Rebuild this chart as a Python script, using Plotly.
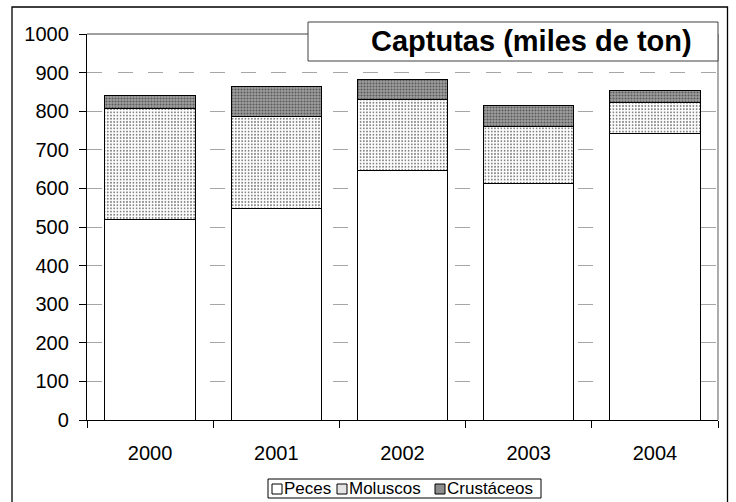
import plotly.graph_objects as go

# Catches by year, thousand tonnes (stacked segments)
years = ["2000", "2001", "2002", "2003", "2004"]
peces = [519, 548, 647, 613, 743]
moluscos = [287, 237, 183, 147, 80]
crustaceos = [34, 80, 53, 55, 30]

series_names = ["Peces", "Moluscos", "Crustáceos"]
y_ticks = list(range(0, 1001, 100))

W, H = 736, 502
L, R, T, B = 87, 18, 34, 82
PW, PH = W - L - R, H - T - B

FONT = "Liberation Sans, Arial, sans-serif"


def px(x):
    return (x - L) / PW


def py(y):
    return (H - B - y) / PH


fig = go.Figure()

fig.add_trace(go.Bar(
    x=years, y=peces, name=series_names[0],
    marker=dict(color="white", line=dict(color="black", width=1)),
))
fig.add_trace(go.Bar(
    x=years, y=moluscos, name=series_names[1],
    marker=dict(
        color="white", line=dict(color="black", width=1),
        pattern=dict(shape=".", fgcolor="#7a7a7a", bgcolor="white",
                     size=3.2, solidity=0.25, fillmode="replace"),
    ),
))
fig.add_trace(go.Bar(
    x=years, y=crustaceos, name=series_names[2],
    marker=dict(
        color="#8c8c8c", line=dict(color="black", width=1),
        pattern=dict(shape=".", fgcolor="#5a5a5a", bgcolor="#a0a0a0",
                     size=3, solidity=0.4, fillmode="replace"),
    ),
))

shapes = []
# outer chart frame
shapes.append(dict(type="rect", xref="paper", yref="paper",
                   x0=px(12), x1=px(727.5), y0=py(520), y1=py(7),
                   line=dict(color="black", width=1.3), fillcolor="rgba(0,0,0,0)",
                   layer="below"))
# plot area top and right edges
shapes.append(dict(type="line", xref="paper", yref="paper",
                   x0=0, x1=1, y0=1, y1=1,
                   line=dict(color="#808080", width=1.3), layer="above"))
shapes.append(dict(type="line", xref="paper", yref="paper",
                   x0=1, x1=1, y0=0, y1=1,
                   line=dict(color="#808080", width=1.3), layer="above"))
# title box
shapes.append(dict(type="rect", xref="paper", yref="paper",
                   x0=px(308), x1=px(718), y0=py(61), y1=py(22),
                   line=dict(color="#404040", width=1), fillcolor="white",
                   layer="above"))

# legend box and swatches
shapes.append(dict(type="rect", xref="paper", yref="paper",
                   x0=px(268), x1=px(541), y0=py(498), y1=py(479),
                   line=dict(color="black", width=1), fillcolor="white",
                   layer="above"))
swatch_x = [272, 337, 435]
swatch_fill = ["white", "#e4e4e4", "#8c8c8c"]
text_x = [284, 349, 447]
annotations = []
for sx, fill, tx, name in zip(swatch_x, swatch_fill, text_x, series_names):
    shapes.append(dict(type="rect", xref="paper", yref="paper",
                       x0=px(sx), x1=px(sx + 10), y0=py(494), y1=py(484),
                       line=dict(color="black", width=1), fillcolor=fill,
                       layer="above"))
    annotations.append(dict(xref="paper", yref="paper", x=px(tx), y=py(488.5),
                            text=name, showarrow=False, xanchor="left",
                            yanchor="middle", xshift=-2,
                            font=dict(family=FONT, size=17, color="black")))

annotations.append(dict(xref="paper", yref="paper", x=px(531), y=py(41.5),
                        text="<b>Captutas (miles de ton)</b>", showarrow=False,
                        xanchor="center", yanchor="middle",
                        font=dict(family=FONT, size=29, color="black")))

fig.update_layout(
    width=W, height=H,
    margin=dict(l=L, r=R, t=T, b=B, pad=0),
    paper_bgcolor="white", plot_bgcolor="white",
    barmode="stack", bargap=0.285,
    showlegend=False,
    font=dict(family=FONT, size=19, color="black"),
    shapes=shapes, annotations=annotations,
)
fig.update_xaxes(
    type="category", tickson="boundaries", ticks="outside", ticklen=7,
    tickcolor="black", tickwidth=1, showline=True, linecolor="black",
    linewidth=1.3, showgrid=False, ticklabelstandoff=15,
    tickfont=dict(family=FONT, size=20, color="black"),
)
fig.update_yaxes(
    range=[0, 1000], tickvals=y_ticks, ticks="outside", ticklen=7,
    tickcolor="black", tickwidth=1, showline=True, linecolor="black",
    linewidth=1.3, showgrid=True, gridcolor="#a6a6a6", gridwidth=1,
    griddash="15px,15.7px", zeroline=False, ticklabelstandoff=6,
    tickfont=dict(family=FONT, size=20, color="black"),
)

fig.write_html("out.html")
